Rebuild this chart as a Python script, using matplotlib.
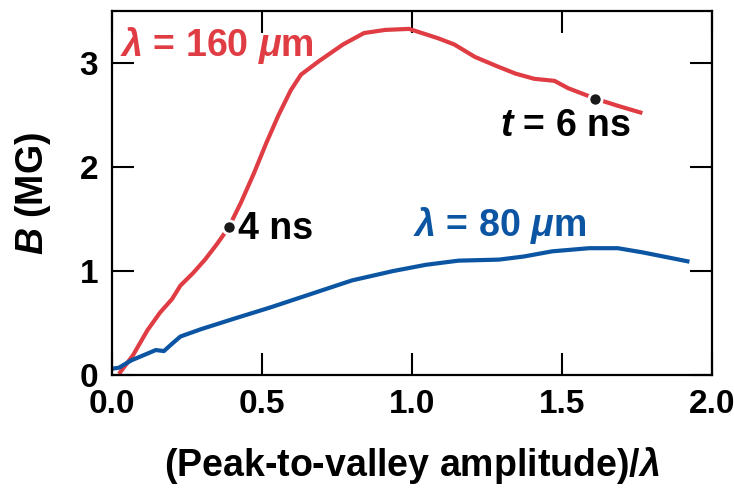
import numpy as np
import matplotlib
matplotlib.use("Agg")
import matplotlib.pyplot as plt

plt.rcParams['font.family'] = ['Liberation Sans', 'DejaVu Sans']
plt.rcParams['font.weight'] = 'bold'
plt.rcParams['mathtext.fontset'] = 'custom'
plt.rcParams['mathtext.rm'] = 'Liberation Sans:bold'
plt.rcParams['mathtext.it'] = 'Liberation Sans:italic:bold'
plt.rcParams['mathtext.bf'] = 'Liberation Sans:bold'

RED = "#e03c43"
BLUE = "#0b55a3"
FS_TEXT = 27
FS_TICK = 24

# lambda = 160 um run
x_160 = [0.023, 0.07, 0.118, 0.16, 0.20, 0.228, 0.27, 0.31, 0.35, 0.389, 0.43, 0.473,
         0.514, 0.555, 0.596, 0.63, 0.69, 0.77, 0.84, 0.91, 0.99, 1.087, 1.141, 1.21,
         1.284, 1.345, 1.407, 1.475, 1.52, 1.61, 1.686, 1.768]
b_160 = [0.01, 0.19, 0.43, 0.60, 0.73, 0.86, 0.98, 1.11, 1.26, 1.42, 1.66, 1.94,
         2.23, 2.50, 2.74, 2.89, 3.02, 3.18, 3.29, 3.32, 3.33, 3.24, 3.18, 3.06,
         2.97, 2.90, 2.85, 2.83, 2.76, 2.66, 2.59, 2.52]

# lambda = 80 um run
x_80 = [0.0, 0.023, 0.064, 0.105, 0.146, 0.173, 0.20, 0.228, 0.296, 0.405, 0.528, 0.664,
        0.80, 0.937, 1.046, 1.155, 1.29, 1.373, 1.468, 1.591, 1.686, 1.768, 1.925]
b_80 = [0.06, 0.07, 0.14, 0.19, 0.24, 0.23, 0.30, 0.37, 0.44, 0.54, 0.65, 0.78,
        0.91, 1.00, 1.06, 1.10, 1.11, 1.14, 1.19, 1.22, 1.22, 1.18, 1.09]

# time markers on the 160 um curve
t_x = [0.389, 1.61]
t_b = [1.42, 2.66]

fig = plt.figure(figsize=(7.34, 4.88), dpi=100)
ax = fig.add_axes([0.1526, 0.2316, 0.8174, 0.7454])

ax.plot(x_160, b_160, color=RED, lw=3.0, solid_capstyle='butt')
ax.plot(x_80, b_80, color=BLUE, lw=3.0, solid_capstyle='butt')
ax.plot(t_x, t_b, 'o', color='#1a1a1a', ms=9.5, mec='white', mew=2, zorder=5)

ax.text(0.027, 3.17, r'$\lambda$ = 160 $\mu$m', color=RED, fontsize=FS_TEXT,
        fontweight='bold', va='center', ha='left')
ax.text(1.003, 1.44, r'$\lambda$ = 80 $\mu$m', color=BLUE, fontsize=FS_TEXT,
        fontweight='bold', va='center', ha='left')
ax.text(0.42, 1.40, '4 ns', color='black', fontsize=FS_TEXT, fontweight='bold',
        va='center', ha='left')
ax.text(1.293, 2.40, r'$t$ = 6 ns', color='black', fontsize=FS_TEXT, fontweight='bold',
        va='center', ha='left')

ax.set_xlim(0, 2.0)
ax.set_ylim(0, 3.5)
ax.set_xticks([0.0, 0.5, 1.0, 1.5, 2.0])
ax.set_xticklabels(['0.0', '0.5', '1.0', '1.5', '2.0'])
ax.set_yticks([0, 1, 2, 3])
ax.tick_params(direction='in', length=16, width=1.5, top=True, right=True,
               labelsize=FS_TICK, pad=10)
for s in ax.spines.values():
    s.set_linewidth(1.6)

ax.set_xlabel(r'(Peak-to-valley amplitude)/$\lambda$', fontsize=FS_TEXT,
              fontweight='bold', labelpad=18)
ax.set_ylabel(r'$B$ (MG)', fontsize=FS_TEXT, fontweight='bold', labelpad=19)

fig.savefig("out.png", dpi=100)
